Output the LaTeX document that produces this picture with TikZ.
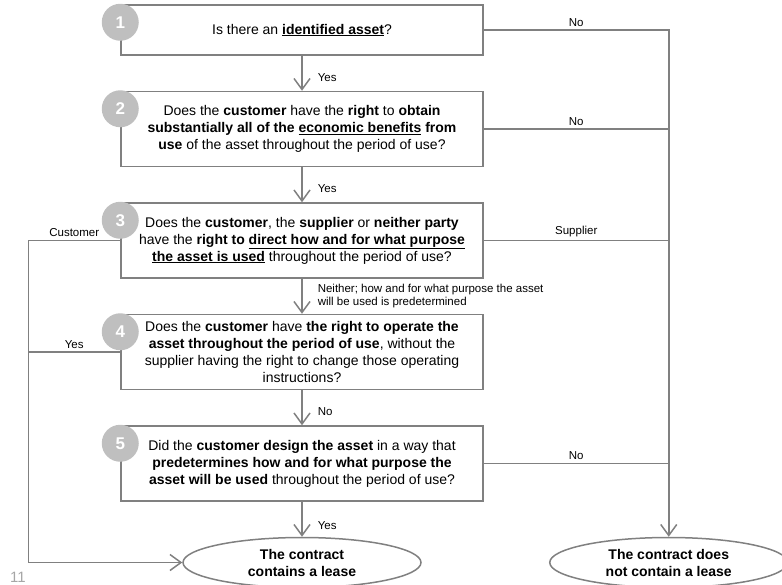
\documentclass[tikz,border=0pt]{standalone}
\usepackage{fontspec}
\setmainfont{Liberation Sans}
\usepackage{xcolor}
\usepackage{tikz}
\usetikzlibrary{arrows.meta,positioning,shapes.geometric,calc}
\definecolor{cline}{HTML}{808080}
\definecolor{cdot}{HTML}{BFBFBF}
\definecolor{cpage}{HTML}{A6A6A6}

\begin{document}
\begin{tikzpicture}[
    x=1pt, y=-1pt,
    node distance=35pt,
    qnode/.style={draw=cline, line width=1.5pt, fill=white, align=center,
                  minimum width=362pt, minimum height=75pt, inner sep=0pt,
                  font=\fontsize{14}{17}\selectfont},
    enode/.style={ellipse, draw=cline, line width=1.5pt, fill=white, align=center,
                  minimum width=238pt, minimum height=50pt, inner sep=0pt,
                  font=\fontsize{14}{17}\selectfont\bfseries},
    dnode/.style={circle, fill=cdot, minimum size=37pt, inner sep=0pt,
                  text=white, font=\fontsize{17}{17}\selectfont\bfseries},
    lbl/.style={font=\fontsize{11.5}{12.5}\selectfont, inner sep=3pt},
    ln/.style={draw=cline, line width=1.5pt},
    arr/.style={ln, -{Straight Barb[length=11pt,width=16pt,line width=1.5pt]}}
]
\clip (0,0) rectangle (782,584);
\node[qnode, minimum height=50pt] (q1) at (302,30) {Is there an \textbf{\underline{identified asset}}?};
\node[qnode, below=of q1] (q2) {Does the \textbf{customer} have the \textbf{right} to \textbf{obtain}\\
  \textbf{substantially all of the \underline{economic benefits} from}\\
  \textbf{use} of the asset throughout the period of use?};
\node[qnode, below=of q2] (q3) {Does the \textbf{customer}, the \textbf{supplier} or \textbf{neither party}\\
  have the \textbf{right to \underline{direct how and for what purpose}}\\
  \textbf{\underline{the asset is used}} throughout the period of use?};
\node[qnode, below=of q3] (q4) {Does the \textbf{customer} have \textbf{the right to operate the}\\
  \textbf{asset throughout the period of use}, without the\\
  supplier having the right to change those operating\\
  instructions?};
\node[qnode, below=of q4] (q5) {Did the \textbf{customer design the asset} in a way that\\
  \textbf{predetermines how and for what purpose the}\\
  \textbf{asset will be used} throughout the period of use?};
\node[enode, below=of q5] (lease) {The contract\\contains a lease};
\coordinate (rcol) at ([xshift=185pt]q1.east);
\coordinate (lcol) at ([xshift=-92pt]q1.west);
\node[enode] (nolease) at (lease -| rcol) {The contract does\\not contain a lease};

% down the middle
\draw[arr] (q1) -- node[lbl, right, pos=0.62, xshift=12pt] {Yes} (q2);
\draw[arr] (q2) -- node[lbl, right, pos=0.6, xshift=12pt] {Yes} (q3);
\draw[arr] (q3) -- node[lbl, right, align=left, xshift=12pt] {Neither; how and for what purpose the asset\\will be used is predetermined} (q4);
\draw[arr] (q4) -- node[lbl, right, pos=0.6, xshift=12pt] {No} (q5);
\draw[arr] (q5) -- node[lbl, right, pos=0.68, xshift=12pt] {Yes} (lease);

% right side: no lease
\draw[arr] (q1.east) -- node[lbl, above] {No} (q1.east -| rcol) -- (nolease.north);
\draw[ln] (q2.east) -- node[lbl, above] {No} (q2.east -| rcol);
\draw[ln] (q3.east) -- node[lbl, above] {Supplier} (q3.east -| rcol);
\draw[ln] (q5.east) -- node[lbl, above] {No} (q5.east -| rcol);

% left side: lease
\draw[arr] (q3.west) -- node[lbl, above] {Customer} (q3.west -| lcol) |- (lease.west);
\draw[ln] (q4.west) -- node[lbl, above] {Yes} (q4.west -| lcol);

\foreach \i in {1,...,5}
  \node[dnode] (n\i) at ([yshift=-18pt]q\i.north west) {\i};

\node[font=\fontsize{15}{15}\selectfont, text=cpage] (pg) at (18,577) {11};
\end{tikzpicture}
\end{document}
